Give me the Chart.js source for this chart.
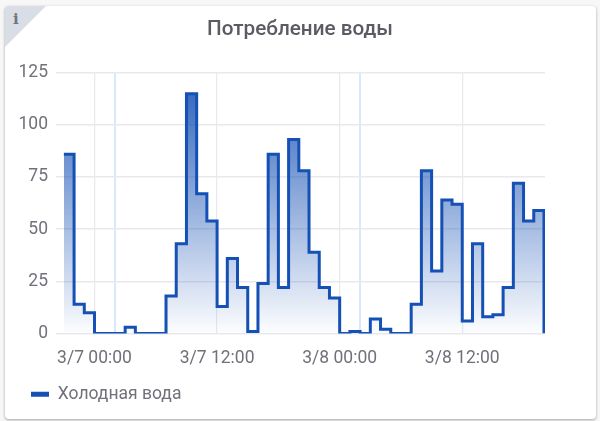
<!DOCTYPE html>
<html><head><meta charset="utf-8">
<script src="https://cdn.jsdelivr.net/npm/chart.js@4"></script>
<style>
html,body{margin:0;padding:0;width:600px;height:421px;background:#f7f7f7;overflow:hidden}
#card{position:absolute;left:5px;top:6px;width:591px;height:413px;background:#fff;border-radius:4px;box-shadow:0 1px 3px rgba(0,0,0,.35);overflow:hidden}
#corner{position:absolute;left:0;top:0;width:0;height:0;border-top:41px solid #d9dee6;border-right:41px solid transparent}
#info{position:absolute;left:8px;top:3px;font:bold 15px "DejaVu Serif",serif;color:#6f7480;line-height:20px}
canvas{position:absolute;left:0;top:0}
</style></head><body>
<div id="card"><div id="corner"></div><div id="info">i</div></div>
<canvas id="c" width="600" height="421"></canvas>
<script>
const hours=[-3,-2,-1,0,1,2,3,4,5,6,7,8,9,10,11,12,13,14,15,16,17,18,19,20,21,22,23,24,25,26,27,28,29,30,31,32,33,34,35,36,37,38,39,40,41,42,43,44];
const coldWater=[86,14,10,0,0,0,3,0,0,0,18,43,115,67,54,13,36,22,1,24,86,22,93,78,39,22,17,0,1,0,7,2,0,0,14,78,30,64,62,6,43,8,9,22,72,54,59,0];
const tickHours=[0,2,12,24,26,36];
const tickLabels=["3/7 00:00","","3/7 12:00","3/8 00:00","","3/8 12:00"];
const dayLines=[2,26];
const yTicks=[0,25,50,75,100,125];
const seriesName="Холодная вода";
const chartTitle="Потребление воды";
const blue="#1550b4";
Chart.defaults.font.family="Roboto";
new Chart(document.getElementById("c"),{
 type:"line",
 plugins:[{id:"legendShift",afterLayout(chart){chart.legend.left+=11;}}],
 data:{datasets:[{label:seriesName,data:hours.map((h,i)=>({x:h,y:coldWater[i]})),
  stepped:true,borderColor:blue,borderWidth:3,pointRadius:0,fill:true,
  backgroundColor(ctx){const a=ctx.chart.chartArea;if(!a)return "rgba(21,80,180,.5)";
   const g=ctx.chart.ctx.createLinearGradient(0,a.top+20,0,a.bottom);
   g.addColorStop(0,"rgba(21,80,180,.85)");g.addColorStop(1,"rgba(21,80,180,.01)");return g;}}]},
 options:{responsive:false,animation:false,
  layout:{padding:{left:19,right:19,top:5,bottom:8}},
  plugins:{
   title:{display:true,text:chartTitle,color:"#5a5b63",font:{size:20.7,weight:"500"},padding:{top:12.5,bottom:30.5}},
   tooltip:{enabled:false},
   legend:{position:"bottom",align:"start",
    labels:{color:"#70717a",font:{size:17.5},boxWidth:18,boxHeight:5,padding:1,
     generateLabels:()=>[{text:seriesName,fillStyle:blue,strokeStyle:blue,lineWidth:0,fontColor:"#70717a"}]}}
  },
  scales:{
   x:{type:"linear",min:-3.77,max:44.1,
    afterBuildTicks(s){s.ticks=tickHours.map(v=>({value:v}));},
    grid:{drawTicks:false,color:c=>dayLines.includes(c.tick&&c.tick.value)?"#d8e9fb":"#e9e9ed",lineWidth:c=>dayLines.includes(c.tick&&c.tick.value)?2:1.2},
    border:{display:false},
    ticks:{autoSkip:false,maxRotation:0,padding:15,color:"#70717a",font:{size:17.5},
     callback:v=>tickLabels[tickHours.indexOf(v)]||""}},
   y:{min:0,max:125,
    afterBuildTicks(s){s.ticks=yTicks.map(v=>({value:v}));},
    afterFit(s){s.width=37;},
    grid:{drawTicks:false,color:"#e9e9ed",lineWidth:1.5},
    border:{display:false},
    ticks:{padding:8,color:"#70717a",font:{size:17.5}}},
   spacer:{position:"right",afterFit(s){s.width=36;},grid:{display:false},border:{display:false},ticks:{display:false}}
  }
 }
});
</script></body></html>
